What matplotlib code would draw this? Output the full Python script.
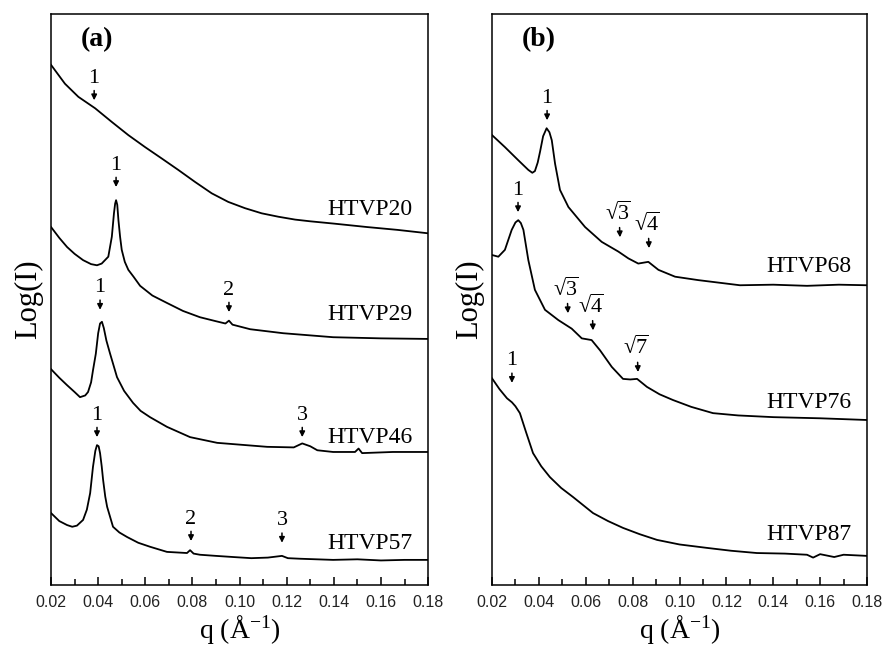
import matplotlib
matplotlib.use('Agg')
import matplotlib.pyplot as plt

plt.rcParams['font.family'] = ['Liberation Serif', 'DejaVu Serif']
plt.rcParams['mathtext.fontset'] = 'custom'
plt.rcParams['mathtext.rm'] = 'Liberation Serif'
plt.rcParams['mathtext.it'] = 'Liberation Serif:italic'
plt.rcParams['mathtext.bf'] = 'Liberation Serif:bold'

# Panel (a) curves: q (1/A) and log intensity (arbitrary offset units)
q20 = [0.0200, 0.0259, 0.0316, 0.0387, 0.0458, 0.0528, 0.0599, 0.0670, 0.0740, 0.0811, 0.0882,
       0.0952, 0.1023, 0.1094, 0.1165, 0.1236, 0.130, 0.140, 0.154, 0.167, 0.180]
i20 = [91.1, 87.8, 85.5, 83.5, 81.1, 78.8, 76.7, 74.7, 72.7, 70.6, 68.6,
       67.1, 66.0, 65.1, 64.5, 64.0, 63.7, 63.3, 62.7, 62.2, 61.6]

q29 = [0.020, 0.0235, 0.0268, 0.030, 0.0336, 0.037, 0.0395, 0.0415, 0.0443, 0.0458, 0.0467,
       0.0472, 0.0476, 0.0481, 0.0486, 0.0493, 0.050, 0.0513, 0.0528, 0.055, 0.0578, 0.063, 0.0692,
       0.076, 0.0832, 0.090, 0.094, 0.0955, 0.097, 0.1045, 0.1185, 0.1397, 0.160, 0.180]
i29 = [62.7, 60.8, 59.2, 58.0, 56.9, 56.2, 56.0, 56.3, 57.5, 61.0, 65.1,
       66.8, 67.4, 66.6, 63.9, 61.0, 58.7, 56.6, 55.2, 54.0, 52.4, 50.7, 49.4,
       48.0, 46.9, 46.2, 45.8, 46.3, 45.6, 44.8, 44.1, 43.4, 43.2, 43.1]

q46 = [0.020, 0.0235, 0.0268, 0.030, 0.0323, 0.0345, 0.0357, 0.037, 0.0378, 0.039, 0.040, 0.0408,
       0.0416, 0.0424, 0.0435, 0.045, 0.048, 0.051, 0.0548, 0.058, 0.062, 0.0692, 0.079, 0.0905,
       0.1117, 0.123, 0.1266, 0.130, 0.133, 0.1397, 0.149, 0.1505, 0.152, 0.165, 0.180]
i46 = [37.8, 36.3, 35.0, 33.8, 32.9, 33.2, 33.8, 35.5, 37.6, 40.5, 44.1, 45.8,
       46.1, 45.0, 42.8, 40.6, 36.4, 34.0, 31.9, 30.5, 29.4, 27.7, 25.9, 24.9,
       24.2, 24.1, 24.8, 24.3, 23.6, 23.3, 23.3, 23.9, 23.1, 23.3, 23.3]

q57 = [0.020, 0.0235, 0.0268, 0.029, 0.031, 0.0336, 0.0352, 0.0366, 0.0378, 0.0388, 0.0395, 0.0402,
       0.0408, 0.0415, 0.0421, 0.043, 0.0438, 0.0463, 0.049, 0.0523, 0.057, 0.062, 0.0692, 0.0777,
       0.079, 0.0805, 0.0832, 0.090, 0.0973, 0.105, 0.112, 0.118, 0.1205, 0.1257, 0.1397, 0.150,
       0.160, 0.170, 0.180]
i57 = [12.6, 11.2, 10.5, 10.2, 10.4, 11.4, 13.2, 16.1, 20.7, 23.5, 24.5, 24.3,
       23.1, 20.8, 18.4, 15.5, 13.7, 10.2, 9.2, 8.4, 7.4, 6.7, 5.8, 5.6,
       6.1, 5.5, 5.3, 5.1, 4.9, 4.7, 4.8, 5.1, 4.7, 4.6, 4.4, 4.5,
       4.3, 4.4, 4.4]

# Panel (b) curves
q68 = [0.020, 0.0255, 0.0312, 0.0355, 0.0372, 0.0383, 0.0395, 0.0405, 0.0418, 0.0433, 0.0445,
       0.0455, 0.0469, 0.049, 0.0526, 0.0597, 0.0668, 0.0739, 0.0782, 0.0824, 0.0867, 0.091,
       0.0981, 0.108, 0.1258, 0.140, 0.1544, 0.168, 0.180]
i68 = [78.8, 76.7, 74.4, 72.7, 72.2, 72.5, 74.0, 75.9, 78.6, 80.0, 79.3,
       77.9, 73.8, 69.2, 66.2, 62.7, 60.1, 58.4, 57.2, 56.3, 56.6, 55.2,
       54.0, 53.4, 52.5, 52.6, 52.4, 52.6, 52.5]

q76 = [0.020, 0.0227, 0.0255, 0.0284, 0.0300, 0.0312, 0.0323, 0.0334, 0.0355, 0.0383, 0.0426,
       0.0483, 0.054, 0.0583, 0.0625, 0.0661, 0.0711, 0.0759, 0.079, 0.0819, 0.0861, 0.0915,
       0.0972, 0.105, 0.1143, 0.125, 0.140, 0.160, 0.180]
i76 = [57.8, 57.5, 58.7, 62.2, 63.5, 63.9, 63.4, 62.2, 56.9, 51.7, 48.2,
       46.4, 44.9, 43.2, 42.9, 41.1, 38.2, 36.1, 36.0, 36.1, 34.7, 33.4,
       32.4, 31.2, 30.1, 29.7, 29.4, 29.2, 28.9]

q87 = [0.020, 0.0232, 0.0264, 0.0285, 0.030, 0.0319, 0.0345, 0.0375, 0.041, 0.0447, 0.0495, 0.0546,
       0.0631, 0.0695, 0.0759, 0.083, 0.0904, 0.100, 0.1117, 0.122, 0.133, 0.145, 0.1544, 0.157,
       0.160, 0.166, 0.170, 0.180]
i87 = [36.2, 34.3, 32.7, 32.0, 31.3, 30.1, 26.8, 23.1, 20.8, 18.9, 17.0, 15.4,
       12.6, 11.2, 10.0, 8.9, 7.9, 7.1, 6.5, 6.0, 5.6, 5.5, 5.3, 4.8,
       5.4, 4.9, 5.3, 5.1]

# peak markers: label, q, arrow tip height
marks_a = [('1', 0.0383, 84.9), ('1', 0.0476, 69.7), ('2', 0.0955, 47.8),
           ('1', 0.0408, 48.2), ('3', 0.1266, 25.9),
           ('1', 0.0395, 25.9), ('2', 0.0794, 7.7), ('3', 0.118, 7.4)]
marks_b = [('1', 0.0435, 81.4), ('3', 0.0746, 60.9), ('4', 0.087, 59.0),
           ('1', 0.0311, 65.3), ('3', 0.0524, 47.6), ('4', 0.0631, 44.6),
           ('7', 0.0823, 37.3), ('1', 0.0285, 35.4)]
root_b = [False, True, True, False, True, True, True, False]

names_a = ['HTVP20', 'HTVP29', 'HTVP46', 'HTVP57']
name_y_a = [65.7, 47.3, 25.9, 7.2]
names_b = ['HTVP68', 'HTVP76', 'HTVP87']
name_y_b = [55.7, 31.9, 8.8]

xticks = [0.02, 0.04, 0.06, 0.08, 0.10, 0.12, 0.14, 0.16, 0.18]

fig = plt.figure(figsize=(8.83, 6.54), dpi=100)
ax1 = fig.add_axes([0.0578, 0.1055, 0.427, 0.873])
ax2 = fig.add_axes([0.5572, 0.1055, 0.4247, 0.873])


def setup(ax, panel, curves, marks, roots, names, name_y):
    for q, i in curves:
        ax.plot(q, i, color='black', lw=1.3, solid_joinstyle='round')
    for (lab, q, tip), root in zip(marks, roots):
        if root:
            lab = '\u221a$\\overline{%s}$' % lab
        ax.annotate(lab, xy=(q, tip), xytext=(-2 if root else 0, 9),
                    textcoords='offset points', ha='center', va='bottom', fontsize=16,
                    arrowprops=dict(arrowstyle='-|>', color='black', lw=1.1,
                                    mutation_scale=8, shrinkA=0, shrinkB=0,
                                    relpos=(0.57 if root else 0.5, 0.5)))
    for n, y in zip(names, name_y):
        ax.text(0.1735, y, n, ha='right', va='center', fontsize=17)
    ax.text(0.08, 0.955, panel, transform=ax.transAxes, fontsize=20,
            fontweight='bold', va='center', ha='left')
    ax.set_xlim(0.02, 0.18)
    ax.set_ylim(0, 100)
    ax.set_xticks(xticks)
    ax.set_xticklabels(['%.2f' % t for t in xticks], family='Liberation Sans',
                       fontsize=11.5, color='#222222')
    ax.set_xticks([0.03, 0.05, 0.07, 0.09, 0.11, 0.13, 0.15, 0.17], minor=True)
    ax.tick_params(axis='x', which='both', direction='in', width=1.1, pad=7)
    ax.tick_params(axis='x', which='major', length=6)
    ax.tick_params(axis='x', which='minor', length=4.5)
    ax.set_yticks([])
    for s in ax.spines.values():
        s.set_linewidth(1.1)
    ax.set_xlabel(r'q (Å$^{-1}$)', fontsize=20, labelpad=2)
    ax.set_ylabel('Log(I)', fontsize=22, labelpad=6)


setup(ax1, '(a)', [(q20, i20), (q29, i29), (q46, i46), (q57, i57)], marks_a,
      [False] * len(marks_a), names_a, name_y_a)
setup(ax2, '(b)', [(q68, i68), (q76, i76), (q87, i87)], marks_b, root_b, names_b, name_y_b)

fig.savefig('out.png', dpi=100)
